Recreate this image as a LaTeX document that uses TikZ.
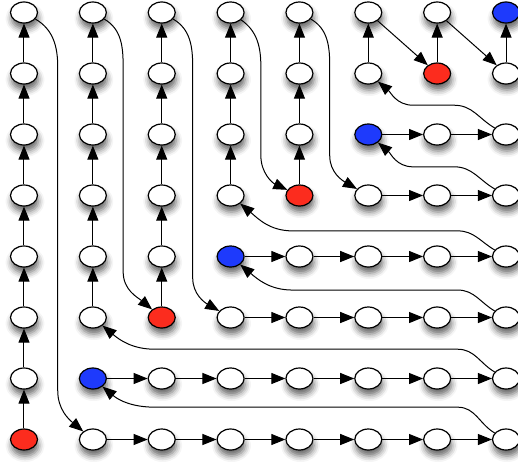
\documentclass[tikz,border=0pt]{standalone}
\usepackage{tikz}
\usetikzlibrary{arrows.meta,shapes.geometric,shadows.blur}
\definecolor{nodered}{RGB}{252,44,30}
\definecolor{nodeblue}{RGB}{30,58,252}

\begin{document}
\begin{tikzpicture}[x=68.86pt, y=61pt,
        vert/.style={ellipse, draw, fill=white, line width=1.2pt, inner sep=0pt,
                     minimum width=27pt, minimum height=21pt,
                     blur shadow={shadow xshift=1pt, shadow yshift=-6pt,
                                  shadow blur radius=6pt, shadow opacity=60}},
        hot/.style={vert, fill=nodered},
        cold/.style={vert, fill=nodeblue},
        link/.style={-{Triangle[length=14pt, width=11pt]}, line width=1pt}]
        \useasboundingbox (-0.3485,-0.369) rectangle (7.174,7.205);

        % row 1 (bottom)
        \node[hot]  (a1) at (0, 0) {};
        \node[vert] (b1) at (1, 0) {};
        \node[vert] (c1) at (2, 0) {};
        \node[vert] (d1) at (3, 0) {};
        \node[vert] (e1) at (4, 0) {};
        \node[vert] (f1) at (5, 0) {};
        \node[vert] (g1) at (6, 0) {};
        \node[vert] (h1) at (7, 0) {};
        % row 2
        \node[vert] (a2) at (0, 1) {};
        \node[cold] (b2) at (1, 1) {};
        \node[vert] (c2) at (2, 1) {};
        \node[vert] (d2) at (3, 1) {};
        \node[vert] (e2) at (4, 1) {};
        \node[vert] (f2) at (5, 1) {};
        \node[vert] (g2) at (6, 1) {};
        \node[vert] (h2) at (7, 1) {};
        % row 3
        \node[vert] (a3) at (0, 2) {};
        \node[vert] (b3) at (1, 2) {};
        \node[hot]  (c3) at (2, 2) {};
        \node[vert] (d3) at (3, 2) {};
        \node[vert] (e3) at (4, 2) {};
        \node[vert] (f3) at (5, 2) {};
        \node[vert] (g3) at (6, 2) {};
        \node[vert] (h3) at (7, 2) {};
        % row 4
        \node[vert] (a4) at (0, 3) {};
        \node[vert] (b4) at (1, 3) {};
        \node[vert] (c4) at (2, 3) {};
        \node[cold] (d4) at (3, 3) {};
        \node[vert] (e4) at (4, 3) {};
        \node[vert] (f4) at (5, 3) {};
        \node[vert] (g4) at (6, 3) {};
        \node[vert] (h4) at (7, 3) {};
        % row 5
        \node[vert] (a5) at (0, 4) {};
        \node[vert] (b5) at (1, 4) {};
        \node[vert] (c5) at (2, 4) {};
        \node[vert] (d5) at (3, 4) {};
        \node[hot]  (e5) at (4, 4) {};
        \node[vert] (f5) at (5, 4) {};
        \node[vert] (g5) at (6, 4) {};
        \node[vert] (h5) at (7, 4) {};
        % row 6
        \node[vert] (a6) at (0, 5) {};
        \node[vert] (b6) at (1, 5) {};
        \node[vert] (c6) at (2, 5) {};
        \node[vert] (d6) at (3, 5) {};
        \node[vert] (e6) at (4, 5) {};
        \node[cold] (f6) at (5, 5) {};
        \node[vert] (g6) at (6, 5) {};
        \node[vert] (h6) at (7, 5) {};
        % row 7
        \node[vert] (a7) at (0, 6) {};
        \node[vert] (b7) at (1, 6) {};
        \node[vert] (c7) at (2, 6) {};
        \node[vert] (d7) at (3, 6) {};
        \node[vert] (e7) at (4, 6) {};
        \node[vert] (f7) at (5, 6) {};
        \node[hot]  (g7) at (6, 6) {};
        \node[vert] (h7) at (7, 6) {};
        % row 8 (top)
        \node[vert] (a8) at (0, 7) {};
        \node[vert] (b8) at (1, 7) {};
        \node[vert] (c8) at (2, 7) {};
        \node[vert] (d8) at (3, 7) {};
        \node[vert] (e8) at (4, 7) {};
        \node[vert] (f8) at (5, 7) {};
        \node[vert] (g8) at (6, 7) {};
        \node[cold] (h8) at (7, 7) {};

        % straight steps
        \draw (a1) edge[link] (a2)  (a2) edge[link] (a3)  (a3) edge[link] (a4)  (a4) edge[link] (a5)
              (a5) edge[link] (a6)  (a6) edge[link] (a7)  (a7) edge[link] (a8);
        \draw (b1) edge[link] (c1)  (c1) edge[link] (d1)  (d1) edge[link] (e1)  (e1) edge[link] (f1)
              (f1) edge[link] (g1)  (g1) edge[link] (h1);
        \draw (b2) edge[link] (c2)  (c2) edge[link] (d2)  (d2) edge[link] (e2)  (e2) edge[link] (f2)
              (f2) edge[link] (g2)  (g2) edge[link] (h2);
        \draw (b3) edge[link] (b4)  (b4) edge[link] (b5)  (b5) edge[link] (b6)  (b6) edge[link] (b7)
              (b7) edge[link] (b8);
        \draw (c3) edge[link] (c4)  (c4) edge[link] (c5)  (c5) edge[link] (c6)  (c6) edge[link] (c7)
              (c7) edge[link] (c8);
        \draw (d3) edge[link] (e3)  (e3) edge[link] (f3)  (f3) edge[link] (g3)  (g3) edge[link] (h3);
        \draw (d4) edge[link] (e4)  (e4) edge[link] (f4)  (f4) edge[link] (g4)  (g4) edge[link] (h4);
        \draw (d5) edge[link] (d6)  (d6) edge[link] (d7)  (d7) edge[link] (d8);
        \draw (e5) edge[link] (e6)  (e6) edge[link] (e7)  (e7) edge[link] (e8);
        \draw (f5) edge[link] (g5)  (g5) edge[link] (h5);
        \draw (f6) edge[link] (g6)  (g6) edge[link] (h6);
        \draw (f7) edge[link] (f8)  (f8) edge[link] (g7)  (g7) edge[link] (g8)
              (g8) edge[link] (h7)  (h7) edge[link] (h8);

        % long jumps down a column
        \draw[link] (a8) to[out=-30,in=90] (0.49,6.1) -- (0.49,0.8) to[out=-90,in=140] (b1);
        \draw[link] (b8) to[out=-30,in=90] (1.44,6.1) -- (1.44,2.75) to[out=-90,in=140] (c3);
        \draw[link] (c8) to[out=-30,in=90] (2.45,6.1) -- (2.45,2.65) to[out=-90,in=150] (d3);
        \draw[link] (d8) to[out=-35,in=90] (3.44,6.1) -- (3.44,4.65) to[out=-90,in=155] (e5);
        \draw[link] (e8) to[out=-30,in=90] (4.44,6.1) -- (4.44,4.65) to[out=-90,in=150] (f5);

        % long jumps back along a row
        \draw[link] (h1) to[out=150,in=0] (6.3,0.53) -- (1.9,0.53) to[out=180,in=-40] (b2);
        \draw[link] (h2) to[out=150,in=0] (6.3,1.48) -- (1.9,1.48) to[out=180,in=-40] (b3);
        \draw[link] (h3) to[out=150,in=0] (6.3,2.45) -- (3.9,2.45) to[out=180,in=-40] (d4);
        \draw[link] (h4) to[out=150,in=0] (6.3,3.42) -- (3.9,3.42) to[out=180,in=-40] (d5);
        \draw[link] (h5) to[out=150,in=0] (6.25,4.47) -- (5.65,4.47) to[out=180,in=-40] (f6);
        \draw[link] (h6) to[out=150,in=0] (6.25,5.48) -- (5.65,5.48) to[out=180,in=-40] (f7);
    \end{tikzpicture}
\end{document}
